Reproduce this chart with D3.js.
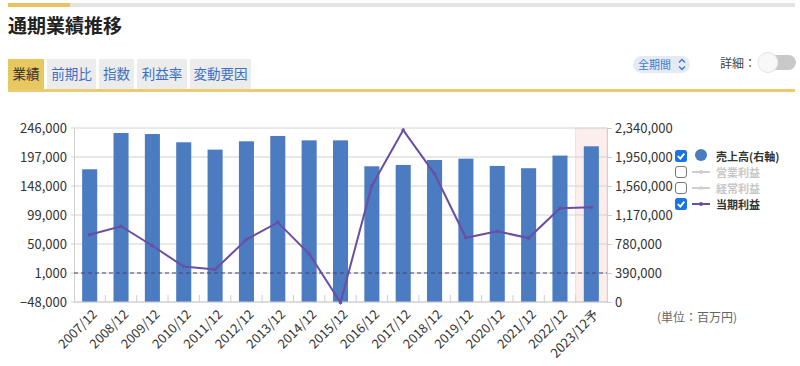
<!DOCTYPE html>
<html>
<head>
<meta charset="utf-8">
<title>通期業績推移</title>
<script src="https://cdn.jsdelivr.net/npm/d3@7"></script>
<style>
  body { margin: 0; background: #fff; }
  svg { display: block; font-family: "Noto Sans CJK JP", "Noto Sans", sans-serif; }
</style>
</head>
<body>
<svg id="chart" width="800" height="366"></svg>
<script>
// data (unit: 百万円)
var years = ['2007/12','2008/12','2009/12','2010/12','2011/12','2012/12','2013/12','2014/12','2015/12',
             '2016/12','2017/12','2018/12','2019/12','2020/12','2021/12','2022/12','2023/12予']
var sales = [1785000,2273000,2259000,2148000,2049000,2161000,2233000,2174000,2174000,
             1825000,1843000,1910000,1928000,1830000,1799000,1969000,2094000]
var netIncome = [65500,80000,47000,12000,7000,57500,86500,33500,-49000,
                 148500,242500,168500,60500,71500,60000,110500,112000]
var leftTicks = [-48000,1000,50000,99000,148000,197000,246000]
var rightTicks = [0,390000,780000,1170000,1560000,1950000,2340000]
var tabs = ['業績','前期比','指数','利益率','変動要因']
var legendItems = [
  {name:'売上高(右軸)', on:true, kind:'bar'},
  {name:'営業利益', on:false, kind:'dot'},
  {name:'経常利益', on:false, kind:'tri'},
  {name:'当期利益', on:true, kind:'line'}
]

var svg = d3.select('#chart')

// header
svg.append('rect').attr('x',8).attr('y',3).attr('width',787).attr('height',4).attr('fill','#e3e3e3')
svg.append('rect').attr('x',8).attr('y',3).attr('width',62).attr('height',4).attr('fill','#e6c35c')
svg.append('text').attr('x',8).attr('y',33).text('通期業績推移')
  .attr('font-size',19).attr('font-weight','bold').attr('fill','#222')

var tabX = [8,47,99,137,190], tabW = [36,49,35,50,61]
tabs.forEach(function(t,i){
  svg.append('rect').attr('x',tabX[i]).attr('y',59).attr('width',tabW[i]).attr('height',30)
    .attr('fill', i==0 ? '#e8c660' : '#ececec')
  svg.append('text').attr('x',tabX[i]+tabW[i]/2).attr('y',79).attr('text-anchor','middle')
    .attr('font-size',13.5).attr('fill', i==0 ? '#333' : '#3a6fc4').text(t)
})
svg.append('rect').attr('x',8).attr('y',89).attr('width',787).attr('height',3).attr('fill','#ecca72')

// period pill + toggle
svg.append('rect').attr('x',633).attr('y',56).attr('width',57).attr('height',17).attr('rx',8.5).attr('fill','#e4ebf4')
svg.append('text').attr('x',638).attr('y',69).attr('font-size',11).attr('fill','#3b78d0').text('全期間')
svg.append('path').attr('d','M679,62 l3,-3 l3,3 M679,66 l3,3 l3,-3').attr('fill','none')
  .attr('stroke','#3b78d0').attr('stroke-width',1.3).attr('transform','translate(0,0.5)')
svg.append('text').attr('x',720).attr('y',68).attr('font-size',12).attr('fill','#444').text('詳細：')
svg.append('rect').attr('x',762).attr('y',55).attr('width',34).attr('height',15).attr('rx',7.5).attr('fill','#c9c9c9')
svg.append('circle').attr('cx',768).attr('cy',62.5).attr('r',10).attr('fill','#f8f8f8')
  .attr('stroke','#ddd').attr('stroke-width',0.8)

// chart area
var plotL = 74, plotR = 607, plotT = 128, plotB = 302
var x = d3.scaleBand().domain(years).range([plotL,plotR])
var yL = d3.scaleLinear().domain([-48000,246000]).range([plotB,plotT])
var yR = d3.scaleLinear().domain([0,2340000]).range([plotB,plotT])

// forecast highlight
var last = years[years.length-1]
svg.append('rect').attr('x',x(last)).attr('y',plotT).attr('width',x.bandwidth()).attr('height',plotB-plotT)
  .attr('fill','#fdeeee').attr('stroke','#f8d8d8').attr('stroke-width',0.8)

// grid
svg.append('g').selectAll('line').data(leftTicks).enter().append('line')
  .attr('x1',plotL-3).attr('x2',plotR).attr('y1',function(d){return yL(d)}).attr('y2',function(d){return yL(d)})
  .attr('stroke','#d2d2d2').attr('stroke-width',1)

// left axis
var gL = svg.append('g').attr('transform','translate('+plotL+',0)')
  .call(d3.axisLeft(yL).tickValues(leftTicks).tickSize(0).tickPadding(7).tickFormat(d3.format(',')))
gL.select('.domain').attr('stroke','#cfcfcf')
gL.selectAll('text').attr('font-size',13).attr('fill','#333').attr('font-family','"Noto Sans CJK JP", sans-serif')

// right axis
var gR = svg.append('g').attr('transform','translate('+plotR+',0)')
  .call(d3.axisRight(yR).tickValues(rightTicks).tickSize(5).tickPadding(3).tickFormat(d3.format(',')))
gR.select('.domain').attr('stroke','#cfcfcf')
gR.selectAll('line').attr('stroke','#cfcfcf')
gR.selectAll('text').attr('font-size',13).attr('fill','#333').attr('font-family','"Noto Sans CJK JP", sans-serif')

// bars
svg.append('g').selectAll('rect').data(years).enter().append('rect')
  .attr('x',function(d){return x(d)+x.bandwidth()*0.26})
  .attr('width',x.bandwidth()*0.48)
  .attr('y',function(d,i){return yR(sales[i])})
  .attr('height',function(d,i){return plotB-yR(sales[i])})
  .attr('fill','#4b7bc1')

// x ticks (inside)
svg.append('g').selectAll('line').data(years.slice(1)).enter().append('line')
  .attr('x1',function(d){return x(d)}).attr('x2',function(d){return x(d)})
  .attr('y1',plotB).attr('y2',plotB-7).attr('stroke','#cfcfcf')
svg.append('line').attr('x1',plotL).attr('x2',plotR).attr('y1',plotB).attr('y2',plotB).attr('stroke','#cfcfcf')

// dashed reference line
svg.append('line').attr('x1',plotL).attr('x2',plotR).attr('y1',yL(1000)).attr('y2',yL(1000))
  .attr('stroke','#4a4470').attr('stroke-width',1.2).attr('stroke-dasharray','4,3')

// net income line
var line = d3.line().x(function(d,i){return x(years[i])+x.bandwidth()/2}).y(function(d){return yL(d)})
svg.append('path').datum(netIncome).attr('d',line).attr('fill','none')
  .attr('stroke','#6a4ea3').attr('stroke-width',2)
svg.append('g').selectAll('circle').data(netIncome).enter().append('circle')
  .attr('cx',function(d,i){return x(years[i])+x.bandwidth()/2}).attr('cy',function(d){return yL(d)})
  .attr('r',1.8).attr('fill','#6a4ea3')

// x labels
svg.append('g').selectAll('text').data(years).enter().append('text')
  .attr('transform',function(d){return 'translate('+(x(d)+x.bandwidth()/2+5)+','+(plotB+10)+') rotate(-45)'})
  .attr('text-anchor','end').attr('dy','0.35em').attr('font-size',13).attr('fill','#333').text(function(d){return d})

// legend
var lg = svg.append('g').attr('transform','translate(675,156)')
legendItems.forEach(function(it,i){
  var g = lg.append('g').attr('transform','translate(0,'+(i*16)+')')
  if (it.on) {
    g.append('rect').attr('x',0).attr('y',-6).attr('width',12).attr('height',12).attr('rx',2.5).attr('fill','#1a73e8')
    g.append('path').attr('d','M2.8,0 l2.5,2.6 l4,-5').attr('fill','none').attr('stroke','#fff').attr('stroke-width',1.8)
  } else {
    g.append('rect').attr('x',0.5).attr('y',-5.5).attr('width',11).attr('height',11).attr('rx',2.5)
      .attr('fill','#fff').attr('stroke','#777').attr('stroke-width',1)
  }
  var col = it.on ? (it.kind=='bar' ? '#4b7bc1' : '#6a4ea3') : '#cfcfcf'
  if (it.kind=='bar') {
    g.append('circle').attr('cx',26).attr('cy',-1).attr('r',6).attr('fill',col)
  } else {
    g.append('line').attr('x1',17).attr('x2',35).attr('y1',0).attr('y2',0).attr('stroke',col).attr('stroke-width',2)
    if (it.kind=='tri') g.append('path').attr('d','M26,-2.5 l2.5,4 l-5,0 z').attr('fill',col)
    else g.append('circle').attr('cx',26).attr('cy',0).attr('r',2).attr('fill',col)
  }
  g.append('text').attr('x',41).attr('y',4.5).attr('font-size',11).attr('font-weight','bold')
    .attr('fill', it.on ? '#333' : '#c8c8c8').text(it.name)
})

svg.append('text').attr('x',657).attr('y',322).attr('font-size',12).attr('fill','#666').text('(単位：百万円)')
</script>
</body>
</html>
